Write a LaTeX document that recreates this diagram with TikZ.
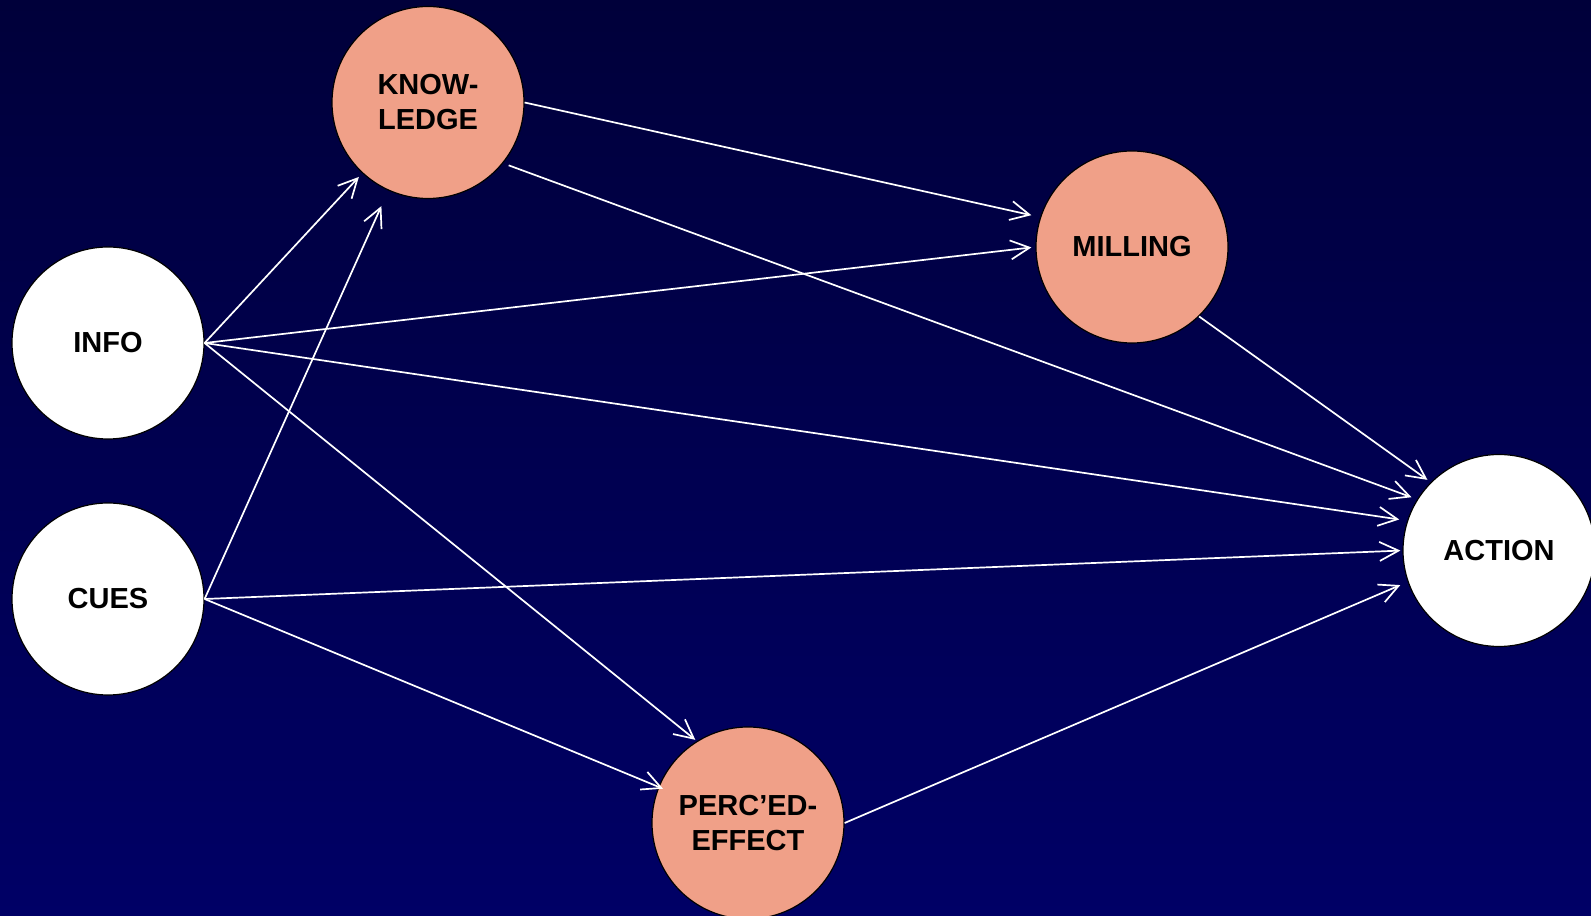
\documentclass[tikz,border=0pt]{standalone}
\usepackage{fontspec}
\setmainfont{Liberation Sans}
\usetikzlibrary{arrows.meta}
\definecolor{bgtop}{RGB}{0,0,58}
\definecolor{bgbottom}{RGB}{0,0,102}
\definecolor{salmon}{RGB}{240,160,136}

\begin{document}
\begin{tikzpicture}[x=0.5pt, y=0.5pt,
  font=\bfseries\fontsize{14.5}{17.5}\selectfont,
  bubble/.style={circle, draw=black, line width=0.6pt, minimum size=96pt, inner sep=0pt, align=center},
  outer/.style={bubble, fill=white},
  inner/.style={bubble, fill=salmon},
  link/.style={white, line width=0.85pt, -{Straight Barb[length=9.5pt, width=9.5pt]}}]
\useasboundingbox (0,0) rectangle (1591,916);
\clip (0,0) rectangle (1591,916);
\shade[top color=bgtop, bottom color=bgbottom] (0,0) rectangle (1591,916);

% nodes
\node[outer] (info) at (108,573) {INFO};
\node[outer] (cues) at (108,317) {CUES};
\node[inner] (know) at (428,813.5) {KNOW-\\LEDGE};
\node[inner] (mill) at (1132,669) {MILLING};
\node[inner] (perc) at (748,93) {PERC’ED-\\EFFECT};
\node[outer] (act) at (1499,365.5) {ACTION};

% links
\draw[link, shorten >=2.5pt] (info.east) -- (know);
\draw[link, shorten >=8.5pt] (cues.east) -- (know);
\draw[link, shorten >=2pt] (info.east) -- (mill.west);
\draw[link, shorten >=4.5pt] (know.east) -- (mill.162);
\draw[link, shorten <=3pt, shorten >=3pt] (know.-39) -- (act.148);
\draw[link, shorten >=4pt] (info.east) -- (act.162);
\draw[link, shorten >=1pt] (cues.east) -- (act.west);
\draw[link, shorten >=4pt] (perc.east) -- (act.199);
\draw[link, shorten >=2pt] (mill.-46) -- (act.135);
\draw[link, shorten >=1pt] (info.east) -- (perc.122);
\draw[link, shorten >=-2.5pt] (cues.east) -- (perc.158);
\end{tikzpicture}
\end{document}
